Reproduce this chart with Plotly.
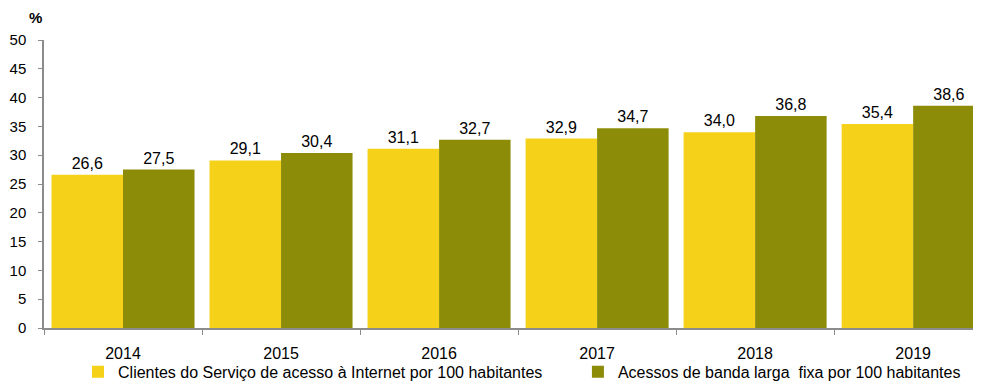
import plotly.graph_objects as go

years = ["2014", "2015", "2016", "2017", "2018", "2019"]
clientes = [26.6, 29.1, 31.1, 32.9, 34.0, 35.4]
acessos = [27.5, 30.4, 32.7, 34.7, 36.8, 38.6]
name_clientes = "Clientes do Serviço de acesso à Internet por 100 habitantes"
name_acessos = "Acessos de banda larga  fixa por 100 habitantes"

def fmt(v):
    return f"{v:.1f}".replace(".", ",")

FONT = "Liberation Sans, Arial, sans-serif"

fig = go.Figure()
fig.add_trace(go.Bar(x=years, y=clientes, name=name_clientes, legend="legend",
                     marker=dict(color="#F6D11A", line=dict(width=0)),
                     text=[fmt(v) for v in clientes], textposition="outside",
                     textfont=dict(size=16, color="#000", family=FONT), cliponaxis=False))
fig.add_trace(go.Bar(x=years, y=acessos, name=name_acessos, legend="legend2",
                     marker=dict(color="#8C8C08", line=dict(width=0)),
                     text=[fmt(v) for v in acessos], textposition="outside",
                     textfont=dict(size=16, color="#000", family=FONT), cliponaxis=False))

leg_common = dict(orientation="h", xanchor="left", y=-0.093, yanchor="top",
                  font=dict(size=16, family=FONT), itemwidth=30,
                  bgcolor="rgba(0,0,0,0)")

fig.update_layout(
    width=981, height=381,
    margin=dict(l=36, r=0, t=32, b=61, autoexpand=False),
    paper_bgcolor="white", plot_bgcolor="white",
    barmode="group", bargap=0.095, bargroupgap=0,
    font=dict(family=FONT, size=15, color="#000"),
    showlegend=True,
    legend=dict(x=0.036, **leg_common),
    legend2=dict(x=0.565, **leg_common),
    xaxis=dict(type="category", range=[-0.5, 5.48], showline=True, linecolor="#8C8C8C",
               linewidth=1.5, ticks="outside", tickson="boundaries", ticklen=5,
               tickcolor="#8C8C8C", showgrid=False, tickfont=dict(size=16),
               ticklabelstandoff=10, automargin=False),
    yaxis=dict(range=[0, 50], dtick=5, showline=True, linecolor="#8C8C8C", linewidth=1.5,
               ticks="outside", ticklen=4, tickcolor="#8C8C8C", showgrid=False,
               zeroline=False, tickfont=dict(size=15), ticklabelstandoff=9,
               automargin=False),
    annotations=[dict(text="<b>%</b>", xref="paper", yref="paper", x=0.0, y=1.0,
                      yshift=12, xanchor="right", yanchor="bottom", showarrow=False,
                      font=dict(size=15, family=FONT))],
)

fig.write_html("out.html")
